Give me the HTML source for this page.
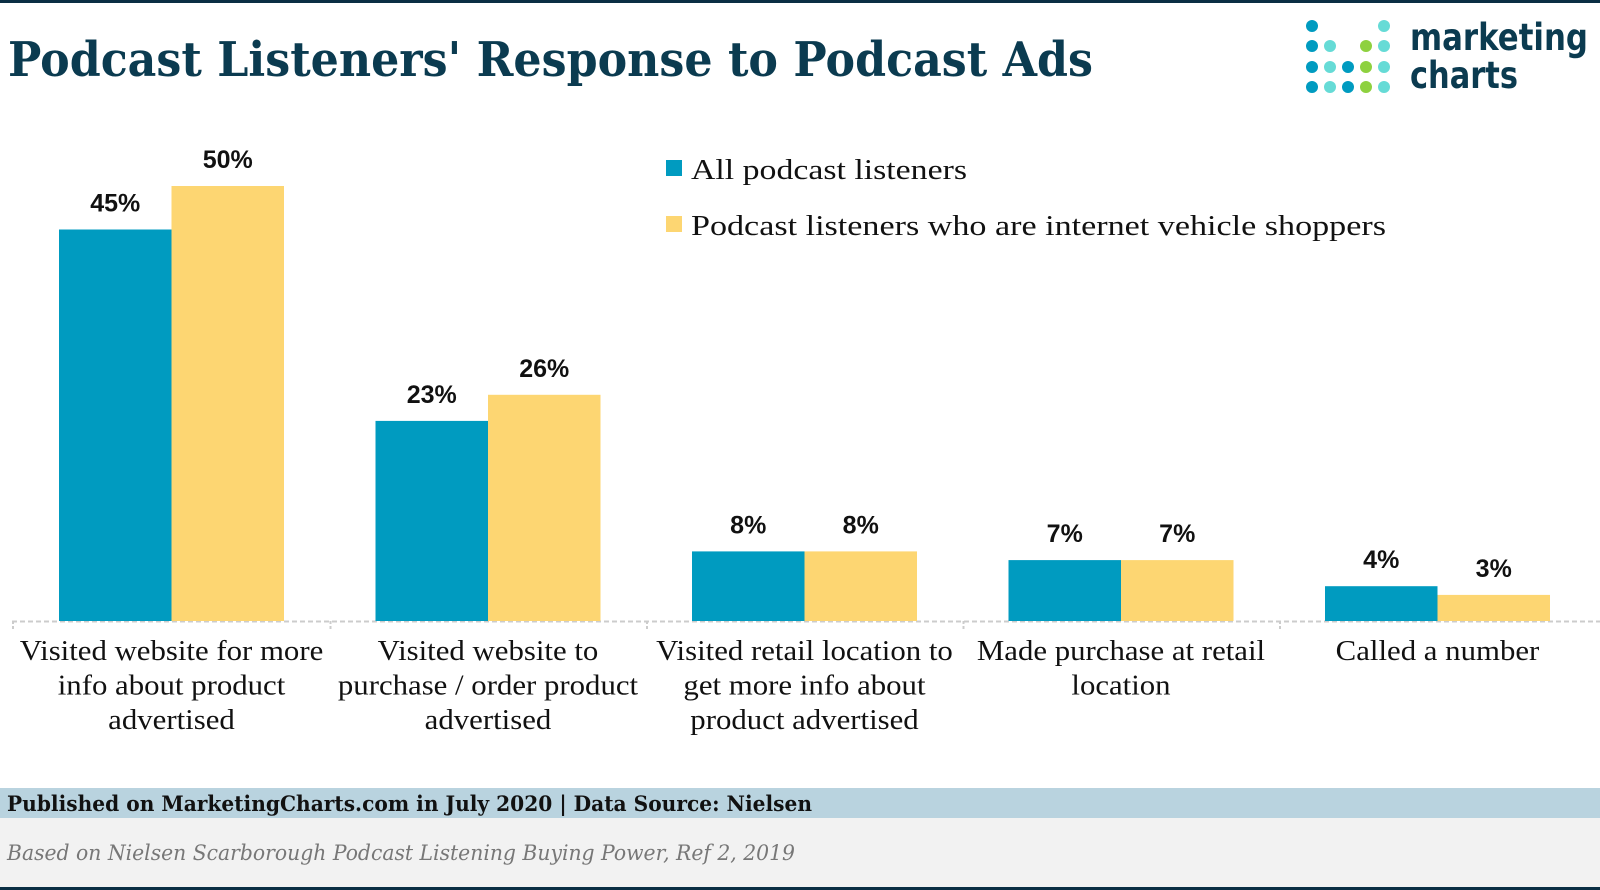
<!DOCTYPE html>
<html><head><meta charset="utf-8"><style>
html,body{margin:0;padding:0;background:#fff}
svg{display:block}
</style></head><body>
<svg width="1600" height="890" viewBox="0 0 1600 890" font-family="'Liberation Serif', serif">
<rect x="0" y="0" width="1600" height="3" fill="#0b2f44"/>
<text x="8" y="76" font-family="'DejaVu Serif', serif" font-weight="bold" font-size="48" fill="#0b3b50" textLength="1085" lengthAdjust="spacingAndGlyphs">Podcast Listeners' Response to Podcast Ads</text>
<g id="logo"></g>
<text x="1410" y="50" font-family="'DejaVu Sans', sans-serif" font-weight="bold" font-size="37" fill="#0b3b50" textLength="178" lengthAdjust="spacingAndGlyphs">marketing</text>
<text x="1410" y="88" font-family="'DejaVu Sans', sans-serif" font-weight="bold" font-size="37" fill="#0b3b50" textLength="108" lengthAdjust="spacingAndGlyphs">charts</text>
<rect x="666" y="160" width="16" height="16" fill="#009bc0"/>
<text x="691" y="179" font-size="29" fill="#111" textLength="276" lengthAdjust="spacingAndGlyphs">All podcast listeners</text>
<rect x="666" y="216" width="16" height="16" fill="#fdd672"/>
<text x="691" y="235" font-size="29" fill="#111" textLength="695" lengthAdjust="spacingAndGlyphs">Podcast listeners who are internet vehicle shoppers</text>
<g id="plot"></g>
<rect x="0" y="788" width="1600" height="30" fill="#b9d3df"/>
<text x="7" y="811" font-family="'DejaVu Serif', serif" font-weight="bold" font-size="21" fill="#111" textLength="805" lengthAdjust="spacingAndGlyphs">Published on MarketingCharts.com in July 2020 | Data Source: Nielsen</text>
<rect x="0" y="818" width="1600" height="69" fill="#f2f2f2"/>
<text x="7" y="860" font-family="'DejaVu Serif', serif" font-style="italic" font-size="21" fill="#777" textLength="788" lengthAdjust="spacingAndGlyphs">Based on Nielsen Scarborough Podcast Listening Buying Power, Ref 2, 2019</text>
<rect x="0" y="887" width="1600" height="3" fill="#0b2f44"/>
</svg>
<script>
const categories = [
  ["Visited website for more","info about product","advertised"],
  ["Visited website to","purchase / order product","advertised"],
  ["Visited retail location to","get more  info about","product advertised"],
  ["Made purchase at retail","location"],
  ["Called a number"]
];
const allListeners = [45, 23, 8, 7, 4];
const vehicleShoppers = [50, 26, 8, 7, 3];
const valueLabelsAll = ["45%","23%","8%","7%","4%"];
const valueLabelsShoppers = ["50%","26%","8%","7%","3%"];

const NS = "http://www.w3.org/2000/svg";
const plot = document.getElementById("plot");
const baseY = 621, perPct = 8.7, groupW = 316.5, x0 = 59, barW = 112.5;
const xScale = i => x0 + i * groupW;
const yScale = v => baseY - v * perPct;
function mk(tag, attrs) { const e = document.createElementNS(NS, tag); for (const k in attrs) e.setAttribute(k, attrs[k]); plot.appendChild(e); return e; }

const axis = mk("line", {x1: 12, y1: baseY + 0.5, x2: 1600, y2: baseY + 0.5, stroke: "#ccc", "stroke-width": 2, "stroke-dasharray": "5,3"});


for (let i = 0; i <= categories.length - 1; i++) {
  const tx = i === 0 ? 13 : xScale(i) - 45;
  const t = mk("line", {x1: tx, y1: baseY, x2: tx, y2: baseY + 10, stroke: "#ccc", "stroke-width": 2, "stroke-dasharray": "3,2"});
  
  
}

categories.forEach((lines, i) => {
  const gx = xScale(i);
  const b1 = mk("rect", {x: gx, y: yScale(allListeners[i]), width: barW, height: allListeners[i] * perPct, fill: "#009bc0"});
  
  
  const b2 = mk("rect", {x: gx + barW, y: yScale(vehicleShoppers[i]), width: barW, height: vehicleShoppers[i] * perPct, fill: "#fdd672"});
  
  
  const l1 = mk("text", {x: gx + barW / 2, y: yScale(allListeners[i]) - 18, "text-anchor": "middle", "font-family": "'Liberation Sans', sans-serif", "font-weight": "bold", "font-size": 25, fill: "#111"});
  l1.textContent = valueLabelsAll[i];
  
  
  const l2 = mk("text", {x: gx + barW * 1.5, y: yScale(vehicleShoppers[i]) - 18, "text-anchor": "middle", "font-family": "'Liberation Sans', sans-serif", "font-weight": "bold", "font-size": 25, fill: "#111"});
  l2.textContent = valueLabelsShoppers[i];
  
  
  lines.forEach((ln, j) => {
    const t = mk("text", {x: gx + barW, y: 660 + j * 34.5, "text-anchor": "middle", "font-size": 28, fill: "#111"});
    t.textContent = ln;
    
    
    const w = t.getComputedTextLength();
    if (w > 0) { t.setAttribute("textLength", (w * 1.1).toFixed(1)); t.setAttribute("lengthAdjust", "spacingAndGlyphs"); }
  });
});

const logo = document.getElementById("logo");
const cols = [1312, 1330, 1348, 1366, 1384], rows = [26, 46, 67, 87];
const B = "#009bc0", T = "#66dbd6", G = "#8ed13f";
const pattern = [[B,null,null,null,T],[B,T,null,G,T],[B,T,B,G,T],[B,T,B,G,T]];
pattern.forEach((r, ri) => r.forEach((c, ci) => {
  if (!c) return;
  const d = document.createElementNS(NS, "circle");
  d.setAttribute("cx", cols[ci]); d.setAttribute("cy", rows[ri]); d.setAttribute("r", 6); d.setAttribute("fill", c);
  
  
  logo.appendChild(d);
}));
</script>
</body></html>
